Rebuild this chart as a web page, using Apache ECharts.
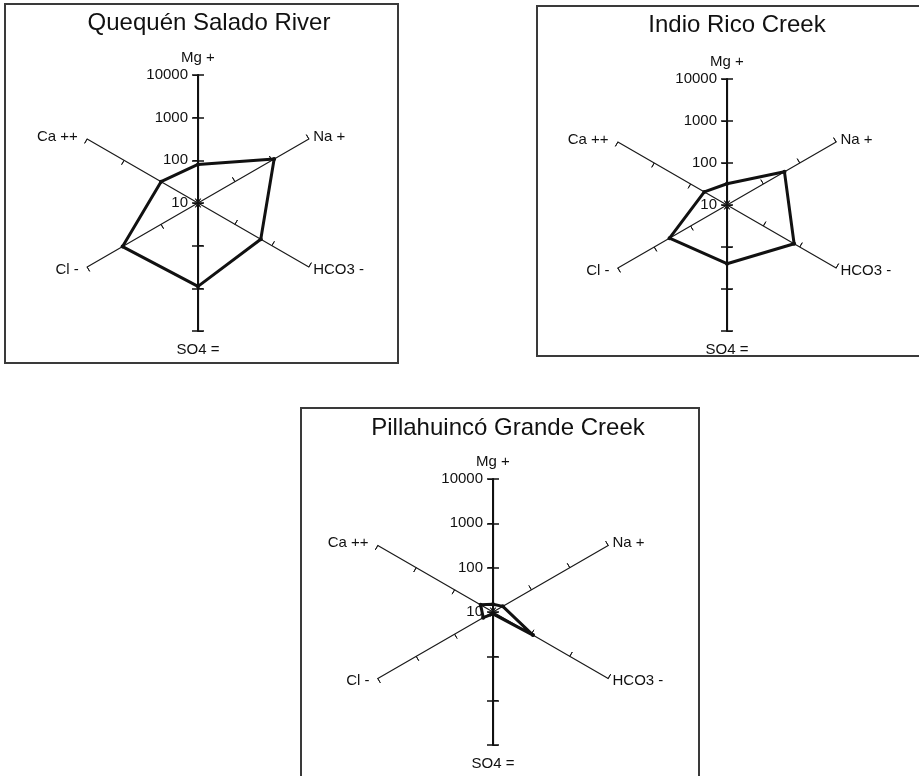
<!DOCTYPE html>
<html><head><meta charset="utf-8">
<script src="https://cdn.jsdelivr.net/npm/echarts@6/dist/echarts.min.js"></script>
<style>html,body{margin:0;padding:0;background:#fff}#c{width:919px;height:776px}</style>
</head><body><div id="c"></div>
<script>
// ---- data ----
const indicatorNames = ['Mg +', 'Ca ++', 'Cl -', 'SO4 =', 'HCO3 -', 'Na +'];
const tickValues = [10, 100, 1000, 10000];
const chartTitles = ['Quequén Salado River', 'Indio Rico Creek', 'Pillahuincó Grande Creek'];
const quequenSaladoValues = [80, 100, 1100, 900, 500, 1150];
const indioRicoValues = [32, 42, 380, 250, 700, 380];
const pillahuincoValues = [15, 21, 18, 11, 110, 18];
const seriesValues = [quequenSaladoValues, indioRicoValues, pillahuincoValues];

// ---- layout / style ----
const layout = [
  {cx: 198, cy: 203, r: 128, box: [5, 4, 393, 359], tx: 209, ty: 23},
  {cx: 727, cy: 205, r: 126, box: [537, 6, 400, 350], tx: 737, ty: 25},
  {cx: 493, cy: 612, r: 133, box: [301, 408, 398, 380], tx: 508, ty: 428}
];
// extra padding for each axis name (top, right, bottom, left), indexed like indicatorNames
const namePadding = [[0, 0, 5, 0], [0, 5, 0, 0], [0, 4, 0, 0], [6, 0, 0, 0], [0, 0, 0, 0], [0, 0, 0, 0]];
const FONT = 'Liberation Sans';
const INK = '#111';
const logMin = Math.log10(tickValues[0]);
const logMax = Math.log10(tickValues[tickValues.length - 1]);
const split = tickValues.length - 1;

const rich = {};
namePadding.forEach((p, k) => { rich['n' + k] = {padding: p, color: INK, fontSize: 15, fontFamily: FONT}; });

const radar = [], series = [], grid = [], xAxis = [], yAxis = [], graphic = [];
layout.forEach((L, i) => {
  const indicator = indicatorNames.map(n => ({name: n, min: logMin, max: logMax}));
  radar.push({
    center: [L.cx, L.cy], radius: L.r, startAngle: 90, splitNumber: split, silent: true,
    indicator: indicator, nameGap: 5,
    axisName: {color: INK, fontSize: 15, fontFamily: FONT,
      formatter: name => '{n' + indicatorNames.indexOf(name) + '|' + name + '}', rich: rich},
    axisLine: {show: true, lineStyle: {color: '#1a1a1a', width: 1.2}},
    axisTick: {show: true, length: 5, lineStyle: {color: '#1a1a1a', width: 1}},
    axisLabel: {show: false},
    splitLine: {show: false}, splitArea: {show: false}
  });
  radar.push({
    center: [L.cx, L.cy], radius: L.r, startAngle: 90, splitNumber: split, silent: true,
    indicator: indicator.map(d => ({name: '', min: d.min, max: d.max})),
    axisName: {show: false},
    axisLine: {show: false},
    axisTick: {show: true, inside: true, length: 5, lineStyle: {color: '#1a1a1a', width: 1}},
    axisLabel: {show: false},
    splitLine: {show: false}, splitArea: {show: false}
  });
  series.push({
    type: 'radar', radarIndex: i * 2, silent: true,
    symbol: 'circle', symbolSize: 4,
    lineStyle: {color: INK, width: 3},
    itemStyle: {color: INK},
    data: [{value: seriesValues[i].map(v => Math.log10(v)), name: chartTitles[i]}]
  });
  // vertical axis overlays (top half with labels, bottom half ticks only)
  [0, 1].forEach(half => {
    const g = grid.length;
    grid.push({left: L.cx, width: 1, top: half === 0 ? L.cy - L.r : L.cy, height: L.r});
    xAxis.push({type: 'value', gridIndex: g, show: false});
    [false, true].forEach(inside => {
      yAxis.push({
        type: 'log', logBase: 10, min: tickValues[0], max: tickValues[tickValues.length - 1],
        gridIndex: g, position: 'left', inverse: half === 1,
        axisLine: {show: !inside, onZero: false, lineStyle: {color: INK, width: 2}},
        axisTick: {show: true, inside: inside, length: 6, lineStyle: {color: INK, width: 1.5}},
        axisLabel: {show: half === 0 && !inside, fontSize: 15, color: INK, fontFamily: FONT, margin: 10,
          formatter: v => String(Math.round(v))},
        splitLine: {show: false}
      });
    });
  });
  graphic.push({type: 'rect', silent: true, shape: {x: L.box[0], y: L.box[1], width: L.box[2], height: L.box[3]},
    style: {fill: 'none', stroke: '#3a3a3a', lineWidth: 2}});
  graphic.push({type: 'text', silent: true, x: L.tx, y: L.ty,
    style: {text: chartTitles[i], fill: INK, fontSize: 24, fontFamily: FONT, align: 'center', verticalAlign: 'middle'}});
});

const chart = echarts.init(document.getElementById('c'), null, {renderer: 'canvas'});
chart.setOption({
  animation: false,
  backgroundColor: '#fff',
  radar, series, grid, xAxis, yAxis, graphic
});
</script></body></html>
